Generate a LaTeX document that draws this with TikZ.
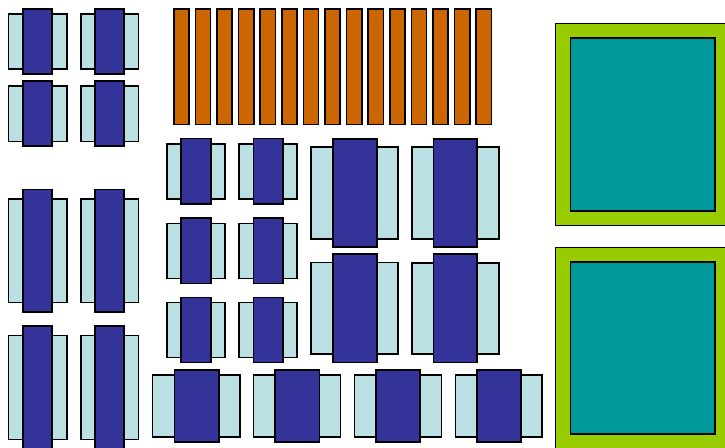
\documentclass[tikz,border=0pt]{standalone}
\definecolor{lightb}{HTML}{BBE0E3}
\definecolor{darkb}{HTML}{333399}
\definecolor{orng}{HTML}{CC6600}
\definecolor{grn}{HTML}{99CC00}
\definecolor{teal2}{HTML}{009999}
\newcommand\cell[8]{%
  \draw[lightbox] (#1,#3) rectangle (#2,#4);
  \draw[darkbox] (#5,#7) rectangle (#6,#8);}
\begin{document}
\begin{tikzpicture}[x=1pt,y=-1pt,
  lightbox/.style={fill=lightb,draw=black,line width=1.6pt},
  darkbox/.style={fill=darkb,draw=black,line width=1.6pt},
  bar/.style={fill=orng,draw=black,line width=1.6pt},
  outerbox/.style={fill=grn,draw=black,line width=1.2pt},
  innerbox/.style={fill=teal2,draw=black,line width=1.6pt}]
\useasboundingbox (0,0) rectangle (725,447);
% left column, small units
\cell{8.3}{66.7}{14}{69}{22.7}{52}{9}{73.7}
\cell{80.7}{138.3}{14}{69}{95}{124}{9}{73.7}
\cell{8.3}{66.7}{86}{141.3}{22.7}{52}{81}{146}
\cell{80.7}{138.3}{86}{141.3}{95}{124}{81}{146}
% left column, tall units
\cell{8.3}{66.7}{198.7}{302.3}{22.7}{52}{189.3}{311.7}
\cell{80.7}{138.3}{198.7}{302.3}{95}{124}{189.3}{311.7}
\cell{8.3}{66.7}{335.3}{439.3}{22.7}{52}{325.7}{452}
\cell{80.7}{138.3}{335.3}{439.3}{95}{124}{325.7}{452}
% orange bars
\foreach \i in {0,...,14}{
  \draw[bar] ({173.7+21.6*\i},8.7) rectangle ({189+21.6*\i},124.3);}
% middle small units
\foreach \ya/\yb/\yc/\yd in {143.7/199/138.3/203.7, 223.3/278.3/217.7/283.3, 302.3/357.3/297.3/362.3}{
  \cell{166.7}{225}{\ya}{\yb}{181}{210.7}{\yc}{\yd}
  \cell{239}{297}{\ya}{\yb}{253.3}{283}{\yc}{\yd}}
% middle large units
\cell{311}{398}{147}{238.7}{332.7}{376.7}{139}{247}
\cell{412}{498.7}{147}{238.7}{433.3}{477}{139}{247}
\cell{311}{398}{262.3}{354}{332.7}{376.7}{254}{362.3}
\cell{412}{498.7}{263}{354}{433.3}{477}{254}{362.3}
% bottom row
\cell{152.3}{240}{375}{436.7}{174.3}{218.7}{369.7}{442}
\cell{253.3}{340.3}{375}{436.7}{275}{319.3}{369.7}{442}
\cell{354.3}{441.3}{375}{436.7}{376}{420}{369.7}{442}
\cell{455.3}{542}{375}{436.7}{476.7}{520.7}{369.7}{442}
% right squares
\draw[outerbox] (555.7,23.3) rectangle (735,225.7);
\draw[innerbox] (570.3,37.7) rectangle (715,211);
\draw[outerbox] (555.7,247.3) rectangle (735,460);
\draw[innerbox] (570.3,261.7) rectangle (715,434);
\end{tikzpicture}
\end{document}
